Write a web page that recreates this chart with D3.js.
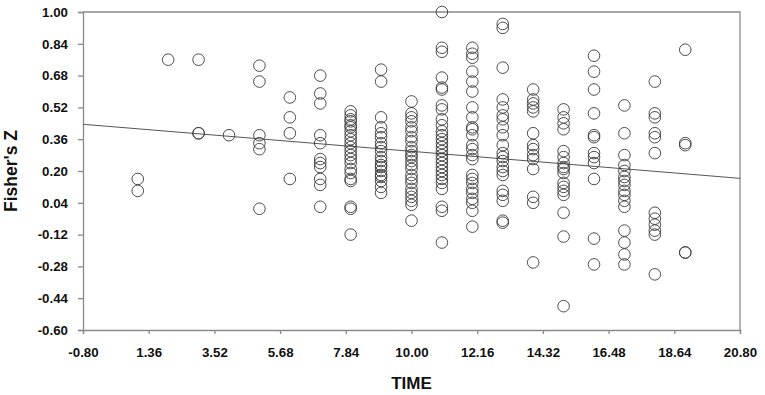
<!DOCTYPE html>
<html>
<head>
<meta charset="utf-8">
<script src="https://cdn.jsdelivr.net/npm/d3@7"></script>
<style>
  html, body { margin: 0; padding: 0; background: #fff; }
  #chart { width: 765px; height: 395px; }
  .tick text { font-family: "Liberation Sans", Arial, sans-serif; font-weight: bold; font-size: 13.3px; fill: #111; }
  .axis-title { font-family: "Liberation Sans", Arial, sans-serif; font-weight: bold; fill: #111; }
</style>
</head>
<body>
<div id="chart"></div>
<script>
// x positions (TIME) of each column of points
const timePoints = [1, 2, 3, 4, 5, 6, 7, 8, 9, 10, 11, 12, 13, 14, 15, 16, 17, 18, 19];

const zByTime = [
  [0.16, 0.10],
  [0.76],
  [0.76, 0.39, 0.39],
  [0.38],
  [0.73, 0.65, 0.38, 0.34, 0.31, 0.01],
  [0.57, 0.47, 0.39, 0.16],
  [0.68, 0.59, 0.54, 0.38, 0.34, 0.26, 0.24, 0.22, 0.16, 0.13, 0.02],
  [0.50, 0.48, 0.46, 0.45, 0.43, 0.42, 0.40, 0.38, 0.36, 0.34, 0.32, 0.30, 0.28, 0.26, 0.24, 0.21, 0.19, 0.16, 0.15, 0.02, 0.01, -0.12],
  [0.71, 0.65, 0.47, 0.42, 0.39, 0.37, 0.34, 0.32, 0.30, 0.27, 0.25, 0.23, 0.22, 0.20, 0.18, 0.17, 0.15, 0.12, 0.09],
  [0.55, 0.49, 0.47, 0.45, 0.42, 0.40, 0.37, 0.35, 0.32, 0.30, 0.28, 0.27, 0.25, 0.23, 0.21, 0.18, 0.16, 0.14, 0.11, 0.09, 0.07, 0.05, 0.03, -0.05],
  [1.00, 0.82, 0.80, 0.67, 0.62, 0.61, 0.53, 0.51, 0.46, 0.43, 0.40, 0.38, 0.36, 0.34, 0.32, 0.30, 0.28, 0.26, 0.24, 0.22, 0.20, 0.18, 0.16, 0.14, 0.11, 0.02, 0.00, -0.16],
  [0.82, 0.79, 0.77, 0.70, 0.65, 0.60, 0.52, 0.47, 0.42, 0.41, 0.38, 0.33, 0.31, 0.28, 0.26, 0.18, 0.16, 0.14, 0.11, 0.09, 0.06, 0.04, 0.00, -0.08],
  [0.94, 0.92, 0.72, 0.56, 0.52, 0.48, 0.46, 0.42, 0.38, 0.33, 0.29, 0.27, 0.25, 0.22, 0.20, 0.18, 0.10, 0.08, 0.05, -0.05, -0.06],
  [0.61, 0.56, 0.54, 0.52, 0.50, 0.39, 0.33, 0.31, 0.28, 0.26, 0.21, 0.07, 0.04, -0.26],
  [0.51, 0.47, 0.44, 0.41, 0.30, 0.27, 0.24, 0.22, 0.21, 0.19, 0.14, 0.12, 0.10, 0.08, -0.01, -0.13, -0.48],
  [0.78, 0.70, 0.61, 0.49, 0.38, 0.37, 0.29, 0.27, 0.24, 0.16, -0.14, -0.27],
  [0.53, 0.39, 0.28, 0.23, 0.20, 0.17, 0.15, 0.13, 0.10, 0.08, 0.05, 0.02, -0.10, -0.16, -0.22, -0.27],
  [0.65, 0.49, 0.47, 0.39, 0.37, 0.29, -0.01, -0.04, -0.07, -0.10, -0.12, -0.32],
  [0.81, 0.34, 0.33, -0.21, -0.21]
];

// fitted regression line end points [time, z]
const fitLine = [[-0.8, 0.435], [20.8, 0.163]];

const xTicks = [-0.80, 1.36, 3.52, 5.68, 7.84, 10.00, 12.16, 14.32, 16.48, 18.64, 20.80];
const yTicks = [-0.60, -0.44, -0.28, -0.12, 0.04, 0.20, 0.36, 0.52, 0.68, 0.84, 1.00];

const points = [];
timePoints.forEach((t, i) => zByTime[i].forEach(z => points.push({t: t, z: z})));

const svgWidth = 765, svgHeight = 395;
const margin = {top: 12, right: 25, bottom: 65, left: 83},
      width = svgWidth - margin.left - margin.right,
      height = svgHeight - margin.top - margin.bottom;

const svg = d3.select("#chart").append("svg")
    .attr("width", svgWidth)
    .attr("height", svgHeight);

const g = svg.append("g")
    .attr("transform", "translate(" + margin.left + "," + margin.top + ")");

const x = d3.scaleLinear().domain([-0.8, 20.8]).range([0, width]);
const y = d3.scaleLinear().domain([-0.6, 1.0]).range([height, 0]);

const axisColor = "#8a8a8a";
const fmt = d => d.toFixed(2);   // plain hyphen for negatives, like the original

// frame (top and right)
g.append("path")
    .attr("d", `M0,0H${width}V${height}`)
    .attr("fill", "none")
    .attr("stroke", axisColor)
    .attr("stroke-width", 1.3);

// X axis
const xAxis = g.append("g")
    .attr("transform", "translate(0," + height + ")")
    .call(d3.axisBottom(x).tickValues(xTicks).tickFormat(fmt).tickSize(4).tickPadding(14));
xAxis.select(".domain").attr("stroke", axisColor).attr("stroke-width", 1.3);
xAxis.selectAll(".tick line").attr("stroke", axisColor).attr("stroke-width", 1.3);

// Y axis
const yAxis = g.append("g")
    .call(d3.axisLeft(y).tickValues(yTicks).tickFormat(fmt).tickSize(5).tickPadding(10));
yAxis.select(".domain").attr("stroke", axisColor).attr("stroke-width", 1.3);
yAxis.selectAll(".tick line").attr("stroke", axisColor).attr("stroke-width", 1.3);

// regression line
g.append("line")
    .attr("x1", x(fitLine[0][0])).attr("y1", y(fitLine[0][1]))
    .attr("x2", x(fitLine[1][0])).attr("y2", y(fitLine[1][1]))
    .attr("stroke", "#555")
    .attr("stroke-width", 1);

// points
g.append("g")
    .selectAll("circle")
    .data(points)
    .enter()
    .append("circle")
        .attr("cx", d => x(d.t))
        .attr("cy", d => y(d.z))
        .attr("r", 5.8)
        .attr("fill", "none")
        .attr("stroke", "#3a3a3a")
        .attr("stroke-width", 0.9);

// axis titles
svg.append("text")
    .attr("class", "axis-title")
    .attr("x", margin.left + width / 2)
    .attr("y", 389)
    .attr("text-anchor", "middle")
    .style("font-size", "17px")
    .text("TIME");

svg.append("text")
    .attr("class", "axis-title")
    .attr("transform", "translate(17," + (margin.top + height / 2) + ")rotate(-90)")
    .attr("text-anchor", "middle")
    .style("font-size", "17.5px")
    .text("Fisher's Z");
</script>
</body>
</html>
